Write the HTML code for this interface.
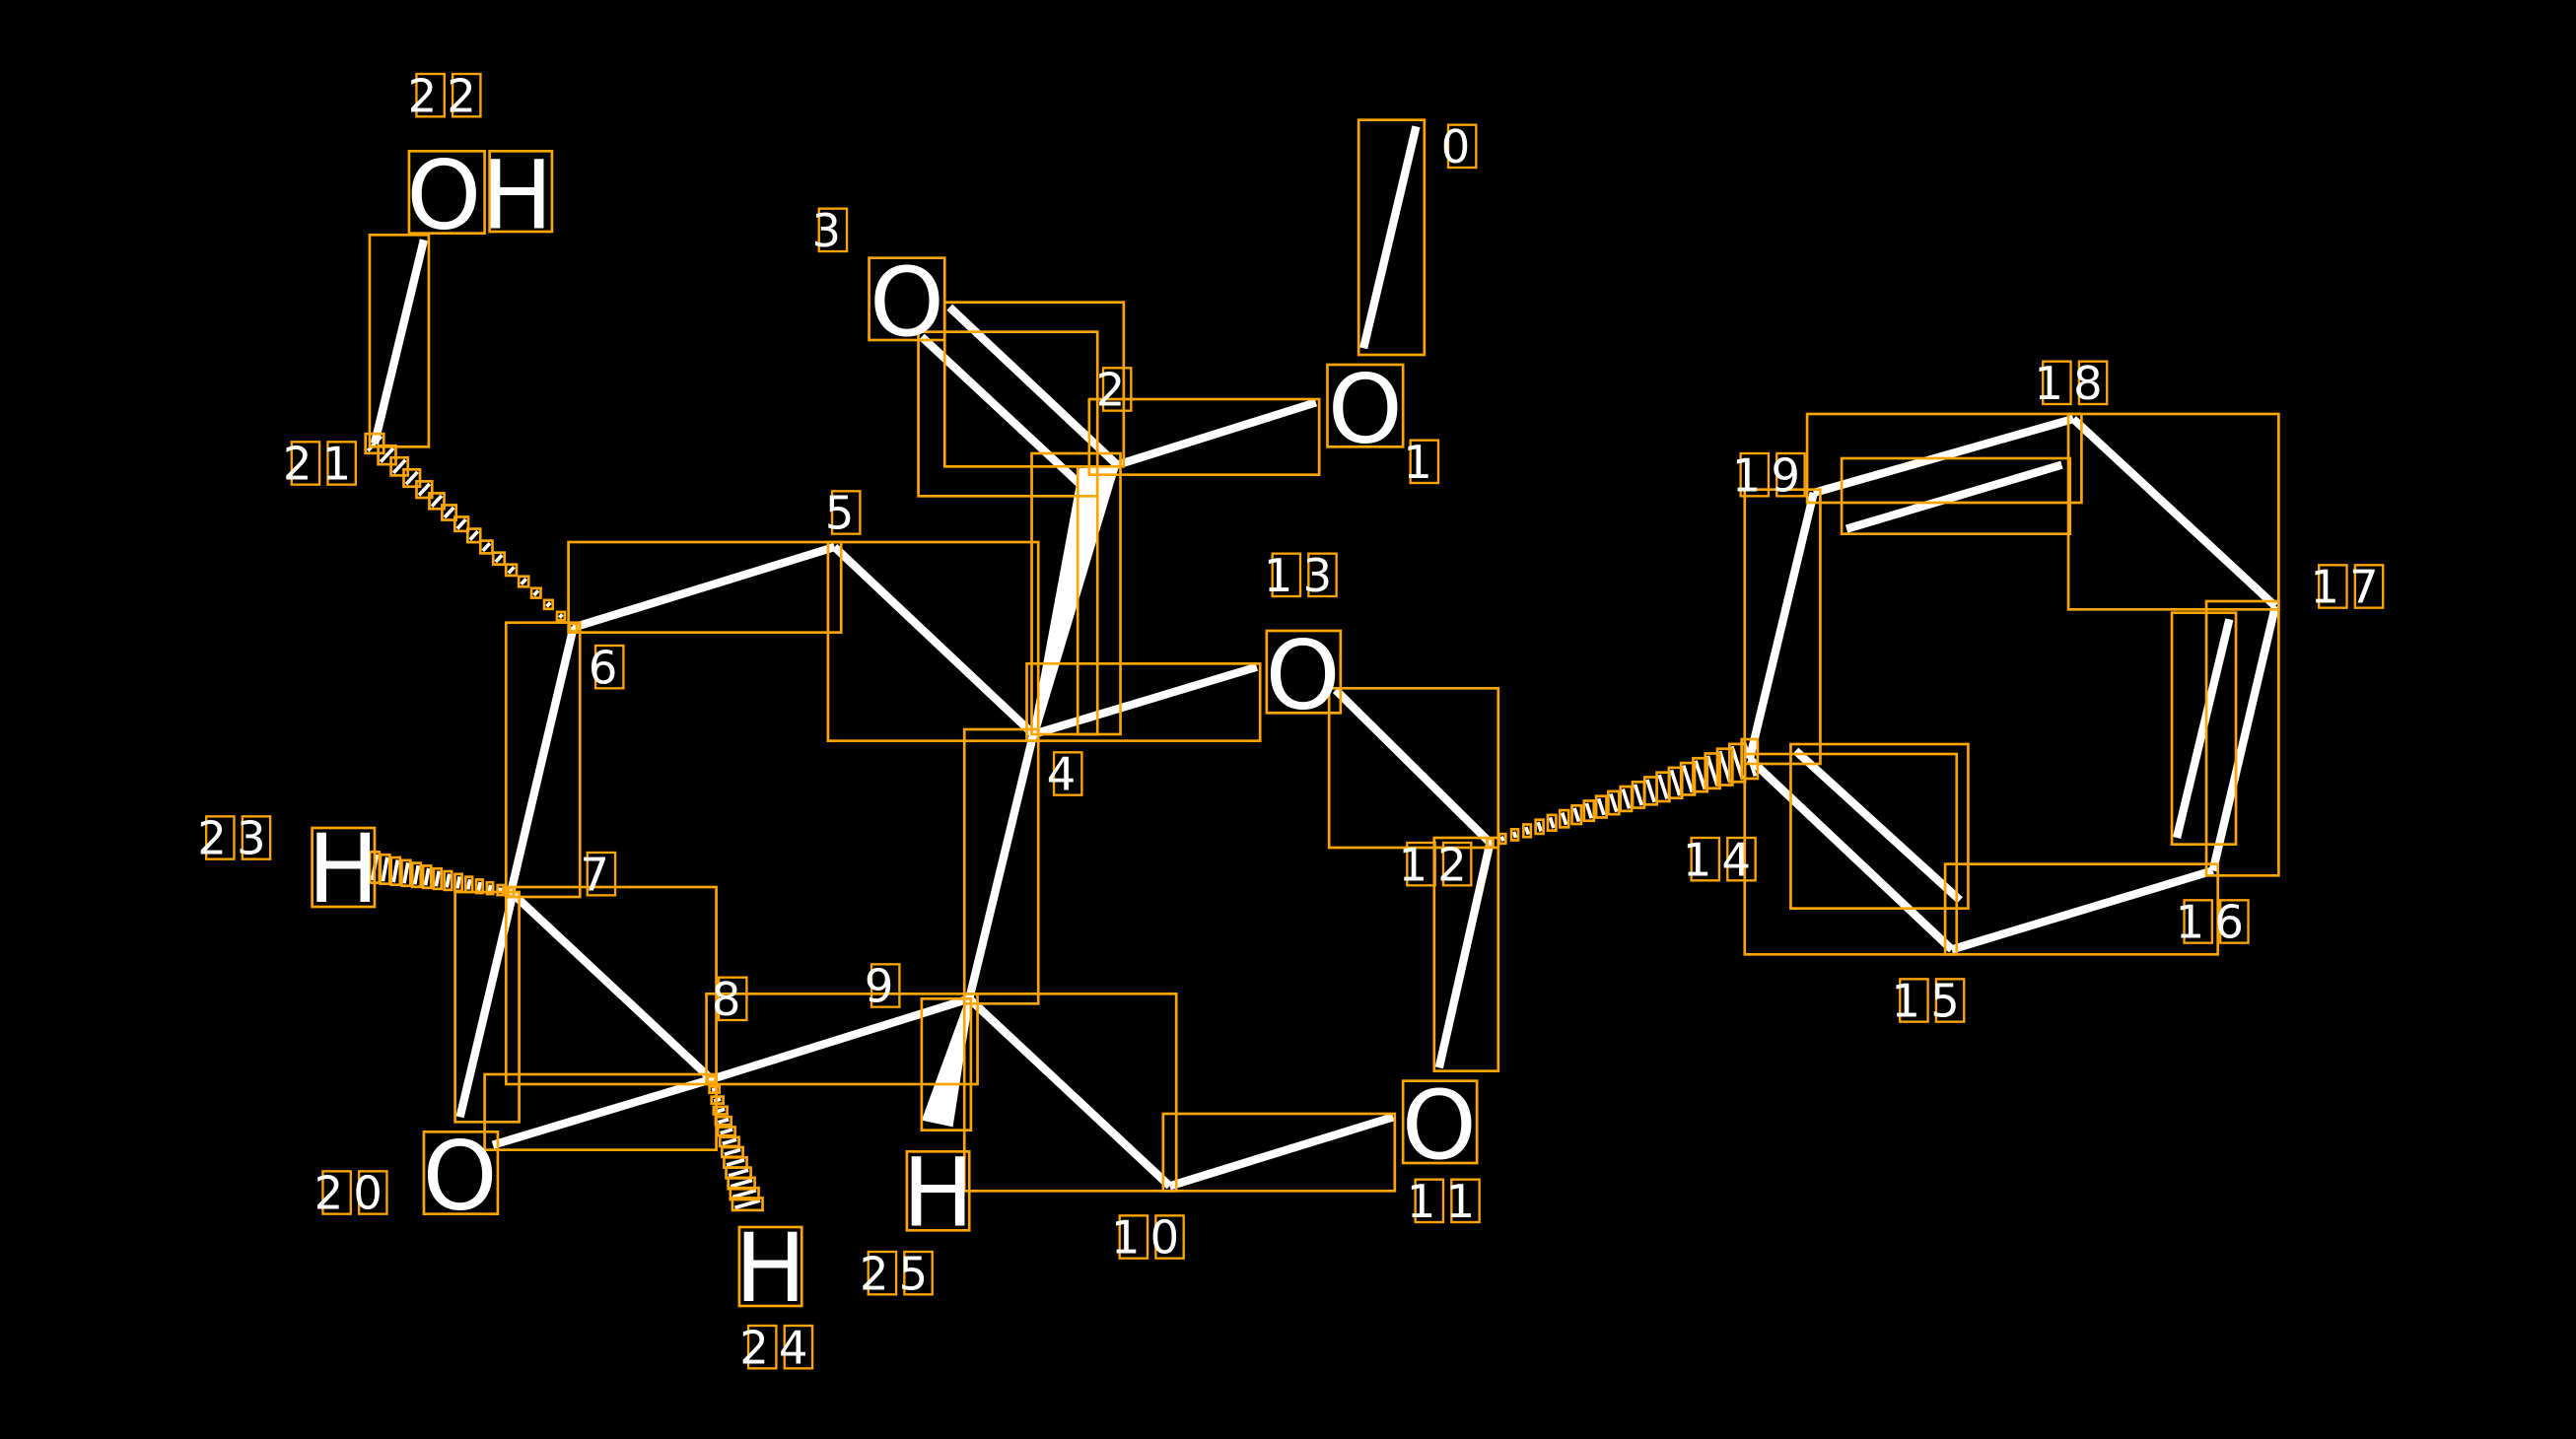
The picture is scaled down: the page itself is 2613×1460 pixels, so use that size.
<!DOCTYPE html>
<html><head><meta charset="utf-8"><style>
html,body{margin:0;padding:0;background:#000;width:2613px;height:1460px;overflow:hidden}
svg{display:block}
text{font-family:"DejaVu Sans","Liberation Sans",sans-serif;fill:#fff}
.a{font-size:58px}
.l{font-size:28px;letter-spacing:6px}
</style></head><body>
<svg id="s" width="2613" height="1460" viewBox="0 0 1568 876" preserveAspectRatio="none" xmlns="http://www.w3.org/2000/svg">
<rect width="1568" height="876" fill="#000"/>
<g id="bonds" stroke="#fff" stroke-width="5" stroke-linecap="butt" fill="none">
<line x1="862" y1="77" x2="830" y2="212"/>
<line x1="578" y1="187" x2="680" y2="283"/>
<line x1="561" y1="205" x2="663" y2="300"/>
<line x1="680" y1="283" x2="801" y2="245"/>
<line x1="629" y1="447" x2="765" y2="406"/>
<line x1="629" y1="447" x2="508" y2="333"/>
<line x1="508" y1="333" x2="349" y2="382"/>
<line x1="228" y1="270" x2="258" y2="146"/>
<line x1="349" y1="382" x2="311" y2="543"/>
<line x1="311" y1="543" x2="433" y2="657"/>
<line x1="312" y1="545" x2="280" y2="680"/>
<line x1="433" y1="657" x2="300" y2="697"/>
<line x1="433" y1="657" x2="590" y2="608"/>
<line x1="629" y1="447" x2="590" y2="608"/>
<line x1="590" y1="608" x2="712" y2="722"/>
<line x1="712" y1="722" x2="848" y2="680"/>
<line x1="876" y1="650" x2="907" y2="513"/>
<line x1="813" y1="420" x2="907" y2="513"/>
<line x1="1065" y1="462" x2="1104" y2="300"/>
<line x1="1104" y1="300" x2="1262" y2="255"/>
<line x1="1124" y1="322" x2="1255" y2="283"/>
<line x1="1262" y1="255" x2="1385" y2="369"/>
<line x1="1385" y1="369" x2="1347" y2="530"/>
<line x1="1357" y1="377" x2="1325" y2="510"/>
<line x1="1347" y1="530" x2="1188" y2="578"/>
<line x1="1188" y1="578" x2="1065" y2="462"/>
<line x1="1193" y1="548" x2="1093" y2="457"/>
</g>
<polygon points="657,285 681,284 632,447 627,447" fill="#fff"/>
<polygon points="588,608 592,609 580,686 561,682" fill="#fff"/>
<g id="hash" stroke="#fff" stroke-width="2.2"></g>
<g id="boxes" stroke="#FFA500" stroke-width="1.6" fill="none">
<rect x="827" y="73" width="40" height="143"/>
<rect x="808" y="222" width="46" height="50"/>
<rect x="529" y="157" width="46" height="50"/>
<rect x="575" y="184" width="109" height="100"/>
<rect x="559" y="202" width="109" height="100"/>
<rect x="663" y="243" width="140" height="46"/>
<rect x="628" y="276" width="54" height="171"/>
<rect x="656" y="284" width="12" height="163"/>
<rect x="625" y="404" width="142" height="47"/>
<rect x="771" y="384" width="45" height="50"/>
<rect x="504" y="330" width="128" height="121"/>
<rect x="346" y="330" width="166" height="55"/>
<rect x="225" y="143" width="36" height="129"/>
<rect x="249" y="92" width="46" height="50"/>
<rect x="298" y="92" width="38" height="49"/>
<rect x="308" y="379" width="45" height="167"/>
<rect x="190" y="504" width="38" height="48"/>
<rect x="308" y="540" width="128" height="120"/>
<rect x="277" y="543" width="39" height="140"/>
<rect x="295" y="654" width="141" height="46"/>
<rect x="258" y="689" width="45" height="50"/>
<rect x="430" y="605" width="165" height="55"/>
<rect x="587" y="444" width="45" height="167"/>
<rect x="561" y="608" width="30" height="80"/>
<rect x="552" y="701" width="38" height="48"/>
<rect x="450" y="747" width="38" height="48"/>
<rect x="587" y="605" width="129" height="120"/>
<rect x="708" y="678" width="141" height="47"/>
<rect x="854" y="658" width="45" height="50"/>
<rect x="873" y="510" width="39" height="142"/>
<rect x="809" y="419" width="103" height="97"/>
<rect x="1062" y="298" width="46" height="167"/>
<rect x="1100" y="252" width="167" height="54"/>
<rect x="1121" y="279" width="139" height="46"/>
<rect x="1259" y="252" width="128" height="119"/>
<rect x="1343" y="366" width="44" height="167"/>
<rect x="1322" y="373" width="39" height="141"/>
<rect x="1184" y="526" width="166" height="55"/>
<rect x="1062" y="459" width="129" height="122"/>
<rect x="1090" y="453" width="108" height="100"/>
</g>
<g id="lb" stroke="#FFA500" stroke-width="1.4" fill="none"></g>
<text class="a" x="831" y="269" text-anchor="middle">O</text>
<text class="a" x="552" y="204" text-anchor="middle">O</text>
<text class="a" x="793" y="431" text-anchor="middle">O</text>
<text class="a" x="292" y="139" text-anchor="middle">OH</text>
<text class="a" x="209" y="549" text-anchor="middle">H</text>
<text class="a" x="280" y="736" text-anchor="middle">O</text>
<text class="a" x="469" y="792" text-anchor="middle">H</text>
<text class="a" x="571" y="746" text-anchor="middle">H</text>
<text class="a" x="876" y="705" text-anchor="middle">O</text>
<g id="labels">
<text class="l" x="889" y="99" text-anchor="middle">0</text>
<text class="l" x="866" y="291" text-anchor="middle">1</text>
<text class="l" x="679" y="247" text-anchor="middle">2</text>
<text class="l" x="506" y="150" text-anchor="middle">3</text>
<text class="l" x="649" y="481" text-anchor="middle">4</text>
<text class="l" x="514" y="322" text-anchor="middle">5</text>
<text class="l" x="370" y="416" text-anchor="middle">6</text>
<text class="l" x="365" y="542" text-anchor="middle">7</text>
<text class="l" x="445" y="618" text-anchor="middle">8</text>
<text class="l" x="538" y="610" text-anchor="middle">9</text>
<text class="l" x="700" y="763" text-anchor="middle">10</text>
<text class="l" x="880" y="741" text-anchor="middle">11</text>
<text class="l" x="875" y="536" text-anchor="middle">12</text>
<text class="l" x="793" y="360" text-anchor="middle">13</text>
<text class="l" x="1048" y="533" text-anchor="middle">14</text>
<text class="l" x="1175" y="619" text-anchor="middle">15</text>
<text class="l" x="1348" y="571" text-anchor="middle">16</text>
<text class="l" x="1430" y="367" text-anchor="middle">17</text>
<text class="l" x="1262" y="243" text-anchor="middle">18</text>
<text class="l" x="1078" y="299" text-anchor="middle">19</text>
<text class="l" x="215" y="736" text-anchor="middle">20</text>
<text class="l" x="196" y="292" text-anchor="middle">21</text>
<text class="l" x="272" y="68" text-anchor="middle">22</text>
<text class="l" x="144" y="520" text-anchor="middle">23</text>
<text class="l" x="474" y="830" text-anchor="middle">24</text>
<text class="l" x="547" y="785" text-anchor="middle">25</text>
</g>
</svg>
<script>
var NS="http://www.w3.org/2000/svg";
function el(p,t,a){var e=document.createElementNS(NS,t);for(var k in a)e.setAttribute(k,a[k]);p.appendChild(e);return e;}
var H=document.getElementById('hash'),B=document.getElementById('boxes'),L=document.getElementById('lb');
function hashed(x1,y1,x2,y2,n,w1,w2){var dx=x2-x1,dy=y2-y1,len=Math.hypot(dx,dy),px=-dy/len,py=dx/len;
for(var i=0;i<n;i++){var t=i/(n-1),cx=x1+dx*t,cy=y1+dy*t,w=(w1+(w2-w1)*t)/2;
var ax=cx+px*w,ay=cy+py*w,bx=cx-px*w,by=cy-py*w;el(H,'line',{x1:ax,y1:ay,x2:bx,y2:by});
var mx=Math.min(ax,bx)-1.5,my=Math.min(ay,by)-1.5;el(B,'rect',{x:mx,y:my,width:Math.abs(ax-bx)+3,height:Math.abs(ay-by)+3});}}
hashed(349,382,228,270,17,2,12);
hashed(311,543,228,528,14,2,16);
hashed(433,657,455,733,13,2,16);
hashed(907,513,1065,462,22,2,22);
var ts=document.querySelectorAll('#labels text');
for(var j=0;j<ts.length;j++){var t=ts[j],s=t.textContent,n=s.length,cw=17,sp=5,x=+t.getAttribute('x'),y=+t.getAttribute('y');
var tot=n*cw+(n-1)*sp,x0=x-tot/2+1;for(var i=0;i<n;i++)el(L,'rect',{x:x0+i*(cw+sp),y:y-23,width:cw,height:26});}
</script>
</body></html>
